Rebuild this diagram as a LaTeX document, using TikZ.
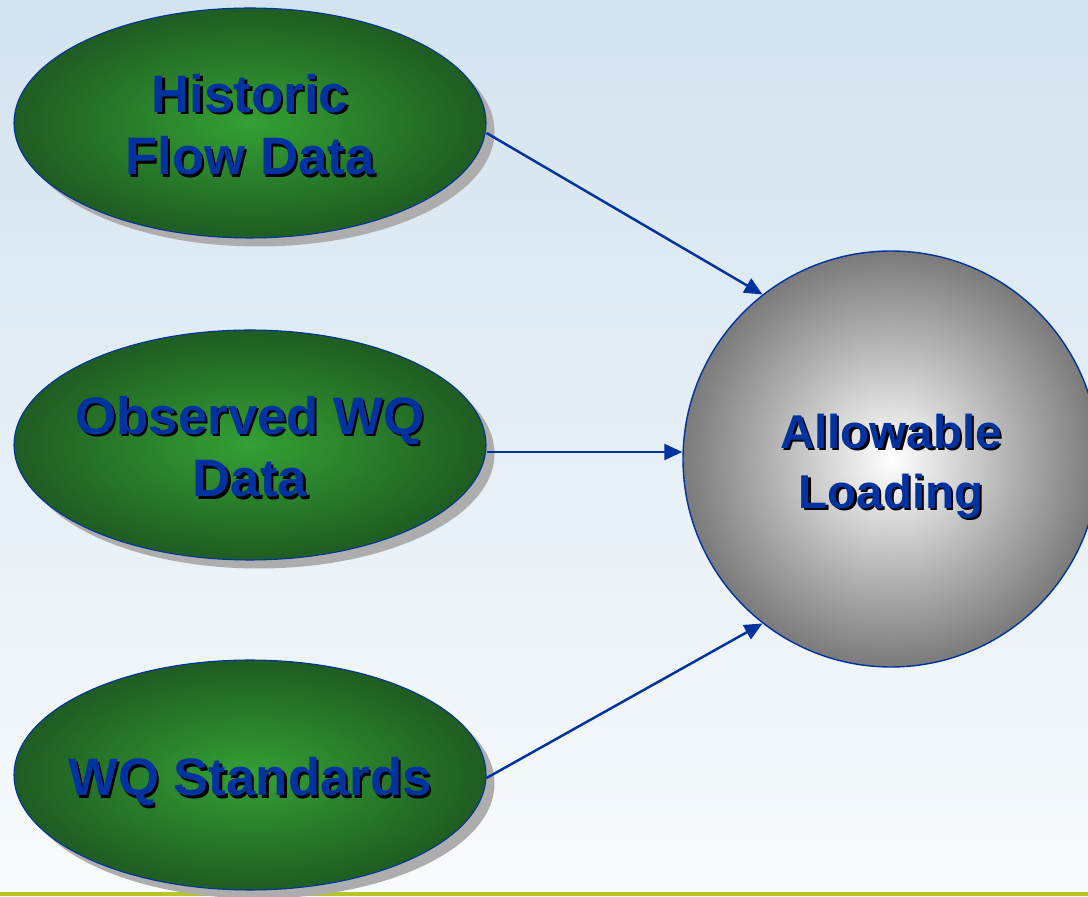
\documentclass[tikz,border=0pt]{standalone}
\usepackage{fontspec}
\setmainfont{Liberation Sans}
\usetikzlibrary{shapes.geometric}
\usetikzlibrary{arrows.meta}
\usetikzlibrary{shadows}
\definecolor{wqblue}{HTML}{0033A0}
\definecolor{wqgreen}{HTML}{34A034}
\definecolor{wqdark}{HTML}{1F5C22}
\definecolor{wqtop}{HTML}{D3E3F0}
\definecolor{wqbot}{HTML}{F8FBFD}
\definecolor{wqolive}{HTML}{B8C42A}
\newcommand{\shtxt}[1]{\makebox[0pt][l]{\hspace{0.045cm}\raisebox{-0.045cm}{\color{black}#1}}#1}

\begin{document}
\begin{tikzpicture}[
  source/.style={ellipse, draw=wqblue, line width=0.6pt, inner sep=0pt,
    minimum width=9.44cm, minimum height=4.6cm,
    inner color=wqgreen, outer color=wqdark,
    drop shadow={fill=black!32, opacity=1, shadow xshift=0.17cm, shadow yshift=-0.17cm}},
  caption/.style={text=wqblue, font=\fontsize{30}{35.5}\selectfont\bfseries, align=center, yshift=-0.06cm},
  target/.style={circle, draw=wqblue, line width=0.8pt, inner sep=0pt,
    minimum size=8.32cm, inner color=white, outer color=black!52},
  result/.style={text=wqblue, font=\fontsize{27}{34}\selectfont\bfseries, align=center, yshift=-0.17cm},
  feed/.style={draw=wqblue, line width=1.4pt, -{Triangle[length=0.36cm,width=0.32cm]}}
]
\useasboundingbox (0,0) rectangle (21.76,17.92);
\clip (0,0) rectangle (21.76,17.92);
\shade[top color=wqtop, bottom color=wqbot] (0,0) rectangle (21.76,17.92);
\fill[wqolive] (0,0) rectangle (21.76,0.08);

\node[source, label={[caption]center:{\shtxt{Historic}\\\shtxt{Flow Data}}}] (hist) at (5.0,15.46) {};
\node[source, label={[caption]center:{\shtxt{Observed WQ}\\\shtxt{Data}}}] (obs) at (5.0,9.02) {};
\node[source, label={[caption, yshift=-0.1cm]center:{\shtxt{WQ Standards}}}] (std) at (5.0,2.42) {};
\node[target, label={[result]center:{\shtxt{Allowable}\\\shtxt{Loading}}}] (load) at (17.82,8.74) {};

\draw[feed] ([yshift=-0.2cm]hist.east) -- (load.128);
\draw[feed] ([yshift=-0.14cm]obs.east) -- ([yshift=-0.14cm]obs.east -| load.west);
\draw[feed] ([yshift=-0.06cm]std.east) -- (load.-128);
\end{tikzpicture}
\end{document}
